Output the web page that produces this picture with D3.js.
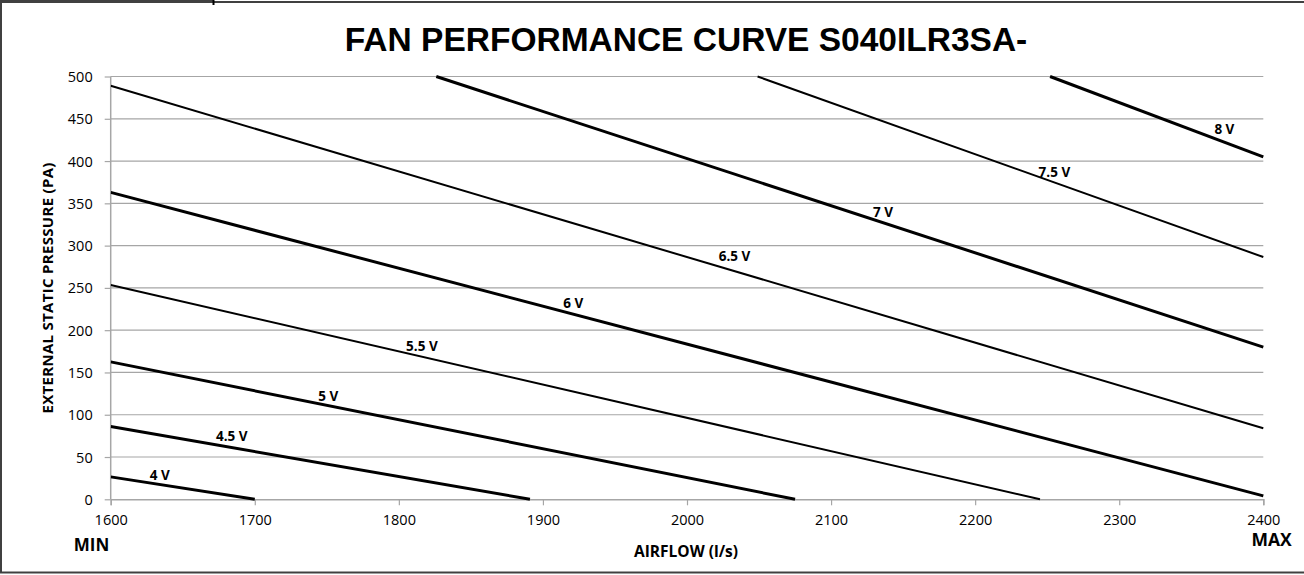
<!DOCTYPE html>
<html>
<head>
<meta charset="utf-8">
<script src="https://cdn.jsdelivr.net/npm/d3@7"></script>
<style>
html,body{margin:0;padding:0;background:#fff;}
svg{display:block;}
</style>
</head>
<body>
<svg id="chart" width="1304" height="575"></svg>
<script>
// ---- data ----
const seriesNames = ["4 V","4.5 V","5 V","5.5 V","6 V","6.5 V","7 V","7.5 V","8 V"];
const airflow = [
  [1600,1700],[1600,1891],[1600,2075],[1600,2245],[1600,2400],
  [1600,2400],[1826,2400],[2049,2400],[2252,2400]
];
const pressure = [
  [26.5,0],[86,0],[162.5,0],[253.5,0],[363,4],
  [489,84],[500,180],[500,286.5],[500,405]
];
const labelAirflow = [1634,1684,1751,1816,1921,2033,2136,2255,2373];
const labelPressure = [28,75,122,181,232,287,340,387,438];
const xTicks = [1600,1700,1800,1900,2000,2100,2200,2300,2400];
const yTicks = [0,50,100,150,200,250,300,350,400,450,500];
const titleText = "FAN PERFORMANCE CURVE S040ILR3SA-";

// ---- layout ----
const svg = d3.select("#chart");
const L = 110.7, R = 1263.3, T = 76.5, B = 499.3;
const x = d3.scaleLinear().domain([1600,2400]).range([L,R]);
const y = d3.scaleLinear().domain([0,500]).range([B,T]);
const widths = [3,3,3,2,3,2,3,2,3];

// frame
svg.append("rect").attr("x",1).attr("y",2).attr("width",1310).attr("height",570.5)
  .attr("fill","none").attr("stroke","#404040").attr("stroke-width",2);
svg.append("line").attr("x1",0).attr("x2",213).attr("y1",1).attr("y2",1)
  .attr("stroke","#404040").attr("stroke-width",2);
svg.append("line").attr("x1",213.5).attr("x2",213.5).attr("y1",0).attr("y2",5)
  .attr("stroke","#000").attr("stroke-width",2);

// title
svg.append("text").attr("x",686).attr("y",51).attr("text-anchor","middle")
  .attr("font-family","Liberation Sans, Arial, sans-serif").attr("font-weight","bold")
  .attr("font-size",33.5).attr("fill","#000").text(titleText);

// gridlines
svg.append("g").selectAll("line").data(yTicks.filter(d=>d>0)).join("line")
  .attr("x1",L).attr("x2",R).attr("y1",d=>y(d)).attr("y2",d=>y(d))
  .attr("stroke","#a6a6a6").attr("stroke-width",1.2);

// axes
const yAxis = d3.axisLeft(y).tickValues(yTicks).tickSize(6).tickPadding(12);
const gy = svg.append("g").attr("transform",`translate(${L},0)`).call(yAxis);
const xAxis = d3.axisBottom(x).tickValues(xTicks).tickSize(6).tickPadding(9).tickFormat(d3.format("d"));
const gx = svg.append("g").attr("transform",`translate(0,${B})`).call(xAxis);
[gx,gy].forEach(g=>{
  g.select(".domain").attr("stroke","#a6a6a6").attr("stroke-width",1.5);
  g.selectAll(".tick line").attr("stroke","#a6a6a6").attr("stroke-width",1.2);
  g.selectAll(".tick text").attr("font-family","Open Sans, sans-serif")
    .attr("font-size",14.5).attr("fill","#000");
});
gy.select(".domain").attr("d",`M0,${B}V${T}`);
gy.selectAll(".tick text").attr("dy","0.35em");

// lines
svg.append("defs").append("clipPath").attr("id","plotclip")
  .append("rect").attr("x",L).attr("y",T-2).attr("width",R-L+3).attr("height",B-T+4);
const line = d3.line().x(d=>x(d[0])).y(d=>y(d[1]));
const seriesData = seriesNames.map((n,i)=>airflow[i].map((a,j)=>[a,pressure[i][j]]));
svg.append("g").attr("clip-path","url(#plotclip)").selectAll("path").data(seriesData).join("path")
  .attr("d",line).attr("fill","none").attr("stroke","#000")
  .attr("stroke-width",(d,i)=>widths[i]);

// line labels
svg.append("g").selectAll("text").data(seriesNames).join("text")
  .attr("x",(d,i)=>x(labelAirflow[i])).attr("y",(d,i)=>y(labelPressure[i]))
  .attr("dy","0.35em").attr("text-anchor","middle")
  .attr("font-family","Open Sans, sans-serif").attr("font-weight","bold")
  .attr("font-size",13.5).attr("fill","#000").text(d=>d);

// axis titles
svg.append("text").attr("transform",`translate(48,${(T+B)/2}) rotate(-90)`)
  .attr("text-anchor","middle").attr("font-family","Open Sans, sans-serif")
  .attr("font-weight","bold").attr("font-size",15).attr("letter-spacing",0.3).attr("fill","#000")
  .attr("dy","0.35em").text("EXTERNAL STATIC PRESSURE (PA)");
svg.append("text").attr("x",686).attr("y",557).attr("text-anchor","middle")
  .attr("font-family","Open Sans, sans-serif").attr("font-weight","bold")
  .attr("font-size",15.5).attr("fill","#000").text("AIRFLOW (l/s)");
svg.append("text").attr("x",91.5).attr("y",551).attr("text-anchor","middle")
  .attr("font-family","Open Sans, sans-serif").attr("font-weight","bold")
  .attr("font-size",17).attr("fill","#000").text("MIN");
svg.append("text").attr("x",1271.5).attr("y",546).attr("text-anchor","middle")
  .attr("font-family","Open Sans, sans-serif").attr("font-weight","bold")
  .attr("font-size",17.5).attr("fill","#000").text("MAX");
</script>
</body>
</html>
